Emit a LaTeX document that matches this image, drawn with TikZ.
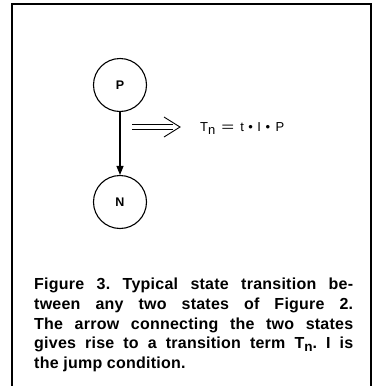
\documentclass[tikz,border=0pt]{standalone}
\usepackage{fontspec}
\usepackage{graphicx}
\setmainfont{Liberation Sans}
\usetikzlibrary{arrows.meta}
\tikzset{
  state/.style={draw, circle, line width=1.1pt, minimum size=53pt, inner sep=0pt, font=\bfseries\fontsize{12.5}{14}\selectfont},
  frame/.style={line width=1.2pt},
  conn/.style={line width=1.2pt, -{Triangle[length=9pt,width=7pt]}},
  dbl/.style={line width=0.9pt}
}
\begin{document}
\begin{tikzpicture}[x=1pt,y=-1pt]
\useasboundingbox (0,0) rectangle (373,386);
\draw[frame] (12,386) -- (12,4) -- (371,4) -- (371,386);
\node[state] (P) at (120,85) {P};
\node[state] (N) at (120,202) {N};
\draw[conn] (P) -- (N);
% double arrow
\coordinate (a1) at (132,124.5);
\coordinate (a2) at (173,124.5);
\coordinate (b1) at (132,129.5);
\coordinate (b2) at (173,129.5);
\coordinate (c1) at (164,117);
\coordinate (tip) at (180,127);
\coordinate (c2) at (164,137);
\draw[dbl] (a1) -- (a2);
\draw[dbl] (b1) -- (b2);
\draw[dbl, line join=miter] (c1) -- (tip) -- (c2);
\node[anchor=base west, inner sep=0pt, font=\fontsize{13}{15}\selectfont] (eq) at (200,131)
  {T\raisebox{-3pt}{n}\hspace{6pt}\scalebox{1.7}[1]{=}\hspace{6pt}t\hspace{4.5pt}•\hspace{4.5pt}I\hspace{4.5pt}•\hspace{5.5pt}P};
\node[anchor=north west, inner sep=0pt, text width=319pt, align=justify,
  font=\bfseries\fontsize{16}{19.7}\selectfont\addfontfeatures{LetterSpace=1.5}\frenchspacing] (cap) at (34,278)
  {Figure 3. Typical state transition be-\linebreak
   tween any two states of Figure 2.\linebreak
   The arrow connecting the two states\linebreak
   gives rise to a transition term T\raisebox{-3pt}{\fontsize{13.5}{14}\selectfont n}. I is\linebreak
   the jump condition.};
\end{tikzpicture}
\end{document}
